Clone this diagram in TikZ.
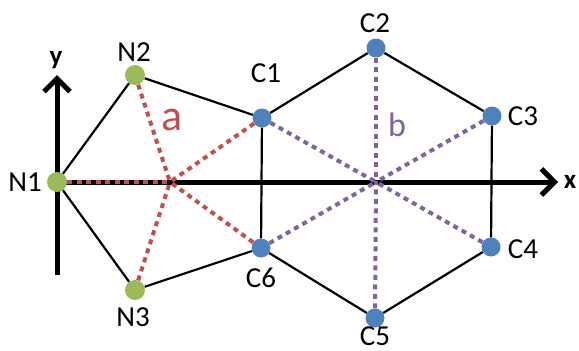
\documentclass[tikz,border=0pt]{standalone}
\usepackage{fontspec}
\setmainfont{Carlito}
\usepackage{xcolor}
\usepackage{tikz}
\usetikzlibrary{arrows.meta}

\definecolor{nodegreen}{RGB}{155,187,89}
\definecolor{cellblue}{RGB}{79,129,189}
\definecolor{rayred}{RGB}{192,80,77}
\definecolor{raypurple}{RGB}{128,100,162}

\begin{document}
\begin{tikzpicture}[x=1pt, y=-1pt,
    site/.style={circle, inner sep=0pt, minimum size=20pt},
    nsite/.style={site, fill=nodegreen},
    csite/.style={site, fill=cellblue, minimum size=19pt},
    lbl/.style={inner sep=0pt, font=\fontsize{29}{29}\selectfont},
    axlbl/.style={inner sep=0pt, font=\fontsize{27}{27}\selectfont\bfseries},
    edge/.style={line width=2.2pt},
    axis/.style={line width=5pt, -{Straight Barb[length=13pt, width=26pt]}},
    ray/.style={line width=4pt, dash pattern=on 5pt off 4.5pt}]
    \useasboundingbox (0,0) rectangle (579,351);

    % axes
    \coordinate (O) at (57,182);
    \coordinate (xend) at (558,182);
    \coordinate (ybot) at (57,275);
    \coordinate (yend) at (57,75);
    \draw[axis] (O) -- (xend);
    \draw[axis] (ybot) -- (yend);
    \node[axlbl] (xlbl) at (570,182) {x};
    \node[axlbl] (ylbl) at (56,60) {y};

    % centres
    \coordinate (a) at (170,182);
    \coordinate (b) at (376,182);

    % sites
    \node[nsite] (N1) at (57,182) {};
    \node[nsite] (N2) at (135,75) {};
    \node[nsite] (N3) at (135,290) {};
    \node[csite] (C1) at (262,118) {};
    \node[csite] (C2) at (376,48) {};
    \node[csite] (C3) at (492,116) {};
    \node[csite] (C4) at (491,247) {};
    \node[csite] (C5) at (375,318) {};
    \node[csite] (C6) at (261,248) {};

    % bonds
    \draw[edge] (N1) -- (N2) -- (C1);
    \draw[edge] (N1) -- (N3) -- (C6);
    \draw[edge] (C1) -- (C2) -- (C3) -- (C4) -- (C5) -- (C6) -- (C1);

    % rays to the centres
    \foreach \s in {N1,N2,N3,C1,C6}
        \draw[ray, rayred] (\s) -- (a);
    \foreach \i in {1,...,6}
        \draw[ray, raypurple] (C\i) -- (b);

    % labels
    \node[lbl] (lN1) at (25,182) {N1};
    \node[lbl] (lN2) at (134,52) {N2};
    \node[lbl] (lN3) at (133,317) {N3};
    \node[lbl] (lC1) at (266,73) {C1};
    \node[lbl] (lC2) at (375,23) {C2};
    \node[lbl] (lC3) at (523,116) {C3};
    \node[lbl] (lC4) at (523,249) {C4};
    \node[lbl] (lC5) at (375,336) {C5};
    \node[lbl] (lC6) at (261,278) {C6};
    \node[inner sep=0pt, text=rayred, font=\fontsize{44}{44}\selectfont] (la) at (172,120) {a};
    \node[inner sep=0pt, text=raypurple, font=\fontsize{34}{34}\selectfont] (lb) at (397,125) {b};
\end{tikzpicture}
\end{document}
